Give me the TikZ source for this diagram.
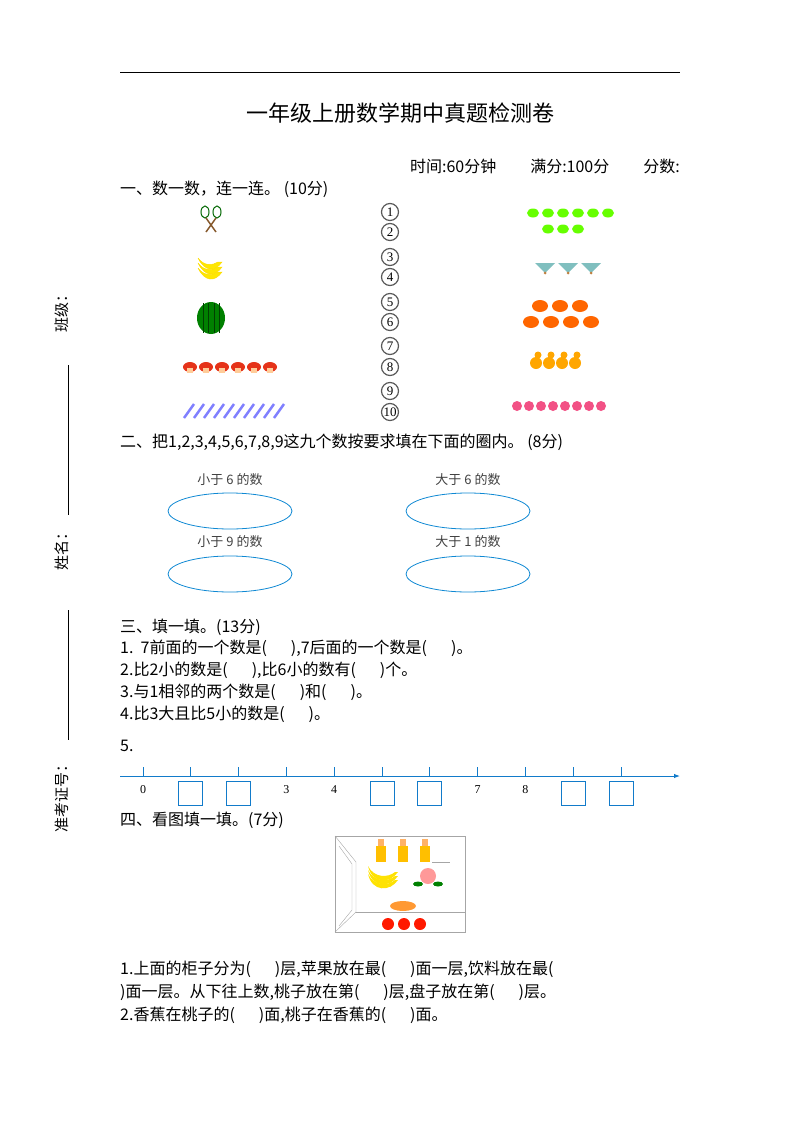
\documentclass[tikz,border=0pt]{standalone}
\usepackage{fontspec}
\setmainfont{Liberation Serif}
\newfontfamily\cjk{Noto Sans CJK SC}
\usetikzlibrary{arrows.meta,shapes.geometric}
\tikzset{
 txt/.style={anchor=west,inner sep=0,font=\cjk\fontsize{16}{16}\selectfont},
 numc/.style={circle,draw=gray!70!black,line width=1.2pt,inner sep=0,minimum size=17pt,font=\fontsize{13}{13}\selectfont},
 lbl/.style={inner sep=0,font=\cjk\fontsize{13}{13}\selectfont,text=gray!50!black},
 oval/.style={ellipse,draw=cyan!70!blue,line width=0.8pt,minimum width=124pt,minimum height=36pt},
 nbox/.style={draw=cyan!60!blue,line width=1pt,minimum width=24pt,minimum height=24pt,inner sep=0},
 side/.style={rotate=90,inner sep=0,font=\cjk\fontsize{15}{15}\selectfont}
}
\begin{document}
\begin{tikzpicture}[x=1pt,y=-1pt]
\useasboundingbox (0,0) rectangle (800,1132);
\draw[line width=0.8pt] (120,72) -- (680,72);
\node[inner sep=0,font=\cjk\fontsize{22}{22}\selectfont] (title) at (400,113) {一年级上册数学期中真题检测卷};
\node[txt,anchor=east] (t1) at (680,166) {时间:60分钟\hspace{34pt}满分:100分\hspace{34pt}分数:};
\node[txt] (s1) at (120,189) {一、数一数，连一连。 (10分)};
% numbers
\foreach \n/\y in {1/212,2/232,3/257,4/277,5/302,6/322,7/346,8/367,9/391,10/412}
  \node[numc] (n\n) at (390,\y) {\n};
% rackets
\draw[green!40!black,line width=1pt] (205,212) ellipse (4 and 6) (217,212) ellipse (4 and 6);
\draw[brown!70!black,line width=1.5pt] (206,218)--(216,232) (216,218)--(206,232);
% bananas
\foreach \d in {0,5,10} \draw[yellow!80!orange,fill=yellow!90!orange,line width=0.5pt] (198,258+\d) .. controls (205,272+\d) and (215,272+\d) .. (222,262+\d) -- (218,262+\d) .. controls (212,266+\d) and (204,266+\d) .. (198,258+\d);
% watermelon
\fill[green!50!black] (211,318) ellipse (14 and 16);
\foreach \dx in {-8,-3,3,8} \draw[green!25!black,line width=1pt] (211+\dx,303) -- (211+\dx,333);
% mushrooms
\foreach \i in {0,...,5} {\fill[red!60!brown] (190+\i*16,367) ellipse (7 and 5); \fill[orange!40] (187+\i*16,368) rectangle (193+\i*16,373);}
% pencils
\foreach \i in {0,...,9} \draw[blue!50,line width=2.5pt] (184+\i*10,418) -- (194+\i*10,404);
% candies
\foreach \i in {0,...,5} \fill[green!60!yellow] (533+\i*15,213) ellipse (6 and 4.5);
\foreach \i in {0,...,2} \fill[green!60!yellow] (548+\i*15,229) ellipse (6 and 4.5);
% fans
\foreach \i in {0,...,2} {\fill[teal!50] (535+\i*23,263) -- (555+\i*23,263) -- (545+\i*23,273) -- cycle; \fill[brown] (545+\i*23,273) circle (1.5);}
% crabs
\foreach \i in {0,...,2} \fill[orange!80!red] (540+\i*20,306) ellipse (8 and 6);
\foreach \i in {0,...,3} \fill[orange!80!red] (531+\i*20,322) ellipse (8 and 6);
% pears
\foreach \i in {0,...,3} {\fill[orange!70!yellow] (536+\i*13,363) circle (6); \fill[orange!70!yellow] (538+\i*13,355) circle (3.5);}
% flowers
\foreach \i in {0,...,7} \fill[magenta!60!red!70] (517+\i*12,406) circle (5);
% section two
\node[txt] (s2) at (120,442) {二、把1,2,3,4,5,6,7,8,9这九个数按要求填在下面的圈内。 (8分)};
\node[lbl] (l1) at (230,480) {小于 6 的数};
\node[lbl] (l2) at (468,480) {大于 6 的数};
\node[lbl] (l3) at (230,542) {小于 9 的数};
\node[lbl] (l4) at (468,542) {大于 1 的数};
\node[oval] (o1) at (230,511) {};
\node[oval] (o2) at (468,511) {};
\node[oval] (o3) at (230,574) {};
\node[oval] (o4) at (468,574) {};
% side
\node[side] (c1) at (62,310) {班级：};
\node[side] (c2) at (62,548) {姓名：};
\node[side] (c3) at (62,795) {准考证号：};
\draw[line width=0.8pt] (68,365) -- (68,515) (68,610) -- (68,740);
% section three
\node[txt] (s3) at (120,627) {三、填一填。(13分)};
\node[txt] (q1) at (120,648) {1.\ \ 7前面的一个数是(\hspace{24pt}),7后面的一个数是(\hspace{24pt})。};
\node[txt] (q2) at (120,670) {2.比2小的数是(\hspace{24pt}),比6小的数有(\hspace{24pt})个。};
\node[txt] (q3) at (120,692) {3.与1相邻的两个数是(\hspace{24pt})和(\hspace{24pt})。};
\node[txt] (q4) at (120,714) {4.比3大且比5小的数是(\hspace{24pt})。};
\node[txt] (q5) at (120,746) {5.};
\coordinate (ls) at (120,776); \coordinate (le) at (680,776);
\draw[cyan!60!blue,line width=1pt,-{Latex[length=6pt]}] (ls) -- (le);
\foreach \i in {0,...,10}
  \draw[cyan!60!blue,line width=0.8pt] (143+\i*47.8,767) -- (143+\i*47.8,776);
\foreach \i in {1,2,5,6,9,10}
  \node[nbox] (b\i) at (143+\i*47.8,793) {};
\foreach \i in {0,3,4,7,8}
  \node[inner sep=0,font=\fontsize{12}{12}\selectfont] (k\i) at (143+\i*47.8,790) {\i};
% section four
\node[txt] (s4) at (120,820) {四、看图填一填。(7分)};
\draw[gray!70] (335,836) rectangle (465,932);
\draw[gray!70] (335,836) -- (356,862) -- (356,912) -- (335,932) (339,846) -- (352,864) -- (352,910) -- (339,926);
\draw[gray!70] (356,912) -- (465,912) (432,862) -- (450,862);
\foreach \i in {0,1,2} {\fill[orange!50!yellow] (376+\i*22,846) rectangle (386+\i*22,862); \fill[orange!60] (378+\i*22,839) rectangle (384+\i*22,846);}
\foreach \d in {0,4,8} \fill[yellow!85!orange] (368,866+\d) .. controls (372,884+\d) and (390,884+\d) .. (398,872+\d) -- (395,872+\d) .. controls (388,878+\d) and (374,878+\d) .. (368,866+\d);
\fill[pink!80!red] (428,876) circle (8);
\fill[green!50!black] (418,884) ellipse (5 and 2.5) (438,884) ellipse (5 and 2.5);
\fill[orange!80] (403,906) ellipse (13 and 5);
\foreach \i in {0,1,2} \fill[red!80!orange] (388+\i*16,924) circle (6);
\node[txt] (p1) at (120,969) {1.上面的柜子分为(\hspace{24pt})层,苹果放在最(\hspace{24pt})面一层,饮料放在最(};
\node[txt] (p2) at (120,992) {)面一层。从下往上数,桃子放在第(\hspace{24pt})层,盘子放在第(\hspace{24pt})层。};
\node[txt] (p3) at (120,1015) {2.香蕉在桃子的(\hspace{24pt})面,桃子在香蕉的(\hspace{24pt})面。};
\end{tikzpicture}
\end{document}
